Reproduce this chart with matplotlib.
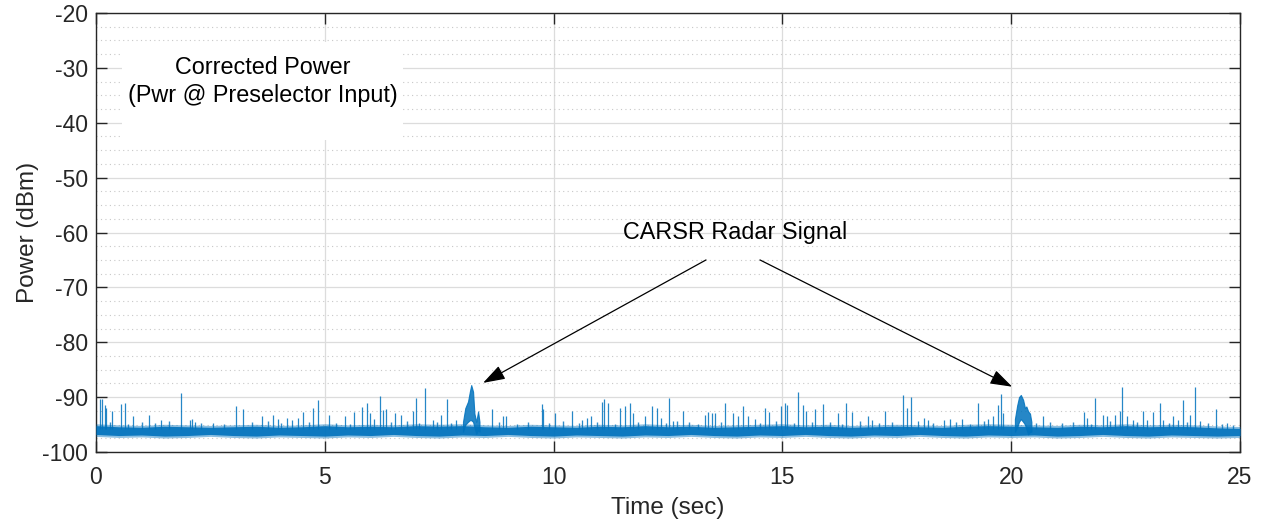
import numpy as np
import matplotlib.pyplot as plt
from matplotlib.patches import Rectangle

plt.rcParams['font.family'] = ['Liberation Sans', 'DejaVu Sans']
plt.rcParams['axes.unicode_minus'] = False

# ---- data ----
# noise floor band (every 0.5 s)
floor_t = [0.0, 0.5, 1.0, 1.5, 2.0, 2.5, 3.0, 3.5, 4.0, 4.5, 5.0, 5.5, 6.0, 6.5, 7.0, 7.5,
           8.0, 8.5, 9.0, 9.5, 10.0, 10.5, 11.0, 11.5, 12.0, 12.5, 13.0, 13.5, 14.0, 14.5,
           15.0, 15.5, 16.0, 16.5, 17.0, 17.5, 18.0, 18.5, 19.0, 19.5, 20.0, 20.5, 21.0,
           21.5, 22.0, 22.5, 23.0, 23.5, 24.0, 24.5, 25.0]
floor_hi = [-95.2, -95.4, -95.5, -95.3, -95.4, -95.5, -95.4, -95.3, -95.5, -95.4, -95.2, -95.4,
            -95.3, -95.4, -95.2, -95.3, -95.2, -95.4, -95.5, -95.3, -95.4, -95.5, -95.3, -95.4,
            -95.2, -95.4, -95.3, -95.5, -95.4, -95.3, -95.2, -95.4, -95.3, -95.5, -95.4, -95.3,
            -95.4, -95.5, -95.3, -95.2, -95.3, -95.4, -95.5, -95.3, -95.4, -95.2, -95.4, -95.3,
            -95.4, -95.6, -95.7]
floor_lo = [-96.8, -97.0, -96.9, -97.1, -97.0, -96.8, -97.0, -97.1, -96.9, -97.0, -97.1, -96.9,
            -97.0, -96.8, -97.0, -97.1, -96.9, -97.0, -96.8, -97.0, -97.1, -96.9, -97.0, -97.1,
            -96.9, -97.0, -96.8, -97.0, -97.1, -96.9, -97.0, -96.8, -97.0, -97.1, -96.9, -97.0,
            -96.8, -97.0, -97.1, -96.9, -97.0, -96.9, -97.1, -97.0, -96.8, -97.0, -97.1, -96.9,
            -97.0, -97.1, -97.0]

# isolated spikes: time (s), peak (dBm)
spike_t = [0.09, 0.14, 0.19, 0.23, 0.36, 0.54, 0.63, 0.82, 1.16, 1.42, 1.85, 2.06, 2.09, 2.16,
           2.56, 3.05, 3.22, 3.63, 3.87, 3.98, 4.17, 4.28, 4.42, 4.52, 4.75, 4.86, 5.10, 5.44,
           5.64, 5.81, 5.92, 5.99, 6.08, 6.21, 6.28, 6.33, 6.53, 6.66, 6.93, 6.99, 7.19, 7.36,
           7.53, 7.68, 7.87, 8.65, 8.90, 8.97, 9.74, 9.77, 10.04, 10.40, 10.63, 10.73, 10.81,
           11.05, 11.10, 11.19, 11.45, 11.55, 11.66, 11.74, 12.00, 12.14, 12.26, 12.35, 12.53,
           12.62, 12.82, 13.31, 13.38, 13.46, 13.52, 13.75, 13.93, 14.04, 14.13, 14.24, 14.40,
           14.62, 14.71, 14.96, 15.06, 15.11, 15.35, 15.45, 15.52, 15.71, 15.88, 16.22, 16.40,
           16.51, 16.86, 16.95, 17.24, 17.63, 17.73, 17.82, 17.97, 18.09, 18.18, 18.52, 18.67,
           18.93, 19.28, 19.50, 19.61, 19.72, 19.78, 19.83, 20.69, 21.58, 21.65, 21.83, 22.00,
           22.09, 22.26, 22.37, 22.41, 22.54, 22.65, 22.87, 22.97, 23.09, 23.24, 23.32, 23.53,
           23.65, 23.76, 23.91, 24.02, 24.13, 24.48, 24.71]
spike_db = [-90.4, -90.4, -91.4, -92.0, -92.5, -91.2, -91.1, -93.4, -93.2, -94.2, -89.3, -94.2,
            -93.9, -94.6, -94.7, -91.6, -92.2, -93.5, -93.2, -94.0, -93.8, -94.1, -93.8, -92.8,
            -92.0, -90.5, -93.2, -93.5, -92.8, -91.8, -91.1, -92.9, -94.0, -89.8, -92.3, -92.2,
            -92.9, -93.2, -92.6, -90.2, -88.4, -94.1, -93.2, -90.4, -94.1, -92.2, -93.5, -93.5,
            -91.3, -92.2, -92.9, -92.5, -94.1, -93.8, -93.5, -90.8, -90.4, -91.1, -92.0, -91.7,
            -91.0, -92.9, -93.5, -91.7, -92.0, -93.8, -90.1, -94.4, -92.6, -93.2, -92.8, -92.9,
            -92.9, -91.1, -92.9, -93.5, -91.6, -93.5, -94.0, -92.0, -92.8, -91.6, -91.0, -91.4,
            -89.0, -91.4, -92.6, -92.2, -91.3, -92.9, -91.0, -92.8, -93.5, -94.1, -92.6, -89.7,
            -92.0, -89.9, -94.4, -93.8, -94.1, -94.1, -94.0, -94.0, -91.0, -94.0, -93.5, -91.4,
            -89.5, -92.9, -93.5, -92.8, -93.8, -90.1, -93.2, -93.5, -93.2, -92.6, -88.2, -93.5,
            -94.1, -92.6, -94.1, -92.8, -91.1, -94.1, -93.5, -94.1, -90.5, -93.2, -88.2, -94.4,
            -92.2, -94.7]

# small ripples on top of the floor
ripple_t = [0.30, 0.70, 1.00, 1.30, 1.60, 2.30, 2.80, 3.40, 3.75, 4.05, 4.65, 5.25, 5.55, 6.45,
            6.80, 7.05, 7.45, 7.75, 8.80, 9.20, 9.45, 9.90, 10.20, 10.55, 10.95, 11.35, 11.85,
            12.45, 12.70, 12.95, 13.15, 13.65, 14.50, 14.85, 15.25, 15.65, 16.05, 16.30, 16.70,
            17.10, 17.40, 18.30, 18.80, 19.10, 19.40, 20.55, 20.85, 21.10, 21.35, 21.75, 22.15,
            22.75, 23.45, 23.85, 24.30, 24.60, 24.85]
ripple_db = [-94.6, -94.9, -94.5, -94.8, -94.4, -94.7, -94.9, -94.6, -94.4, -94.8, -94.5, -94.7,
             -94.9, -94.6, -94.4, -94.8, -94.5, -94.7, -94.6, -94.9, -94.5, -94.8, -94.4, -94.7,
             -94.6, -94.9, -94.5, -94.8, -94.4, -94.6, -94.9, -94.5, -94.7, -94.4, -94.8, -94.6,
             -94.5, -94.9, -94.4, -94.7, -94.6, -94.8, -94.5, -94.9, -94.4, -94.7, -94.6, -94.8,
             -94.5, -94.9, -94.4, -94.6, -94.8, -94.5, -94.7, -94.9, -95.0]

# CARSR radar bursts
burst1_t = [8.02, 8.07, 8.13, 8.17, 8.20, 8.24, 8.27, 8.31, 8.35, 8.38]
burst1_hi = [-94.5, -92.0, -90.8, -89.0, -87.8, -89.0, -93.0, -94.5, -92.6, -94.5]
burst1_lo = [-96.3, -95.0, -94.5, -94.2, -94.2, -94.5, -95.5, -96.7, -96.0, -96.3]
burst2_t = [20.08, 20.13, 20.17, 20.21, 20.26, 20.30, 20.33, 20.37, 20.41, 20.44]
burst2_hi = [-94.0, -91.5, -90.0, -89.6, -90.5, -92.0, -91.7, -92.6, -93.0, -94.5]
burst2_lo = [-96.3, -95.5, -94.5, -94.0, -94.5, -95.0, -95.8, -96.8, -96.3, -96.3]

BLUE = '#0072BD'
DARK = '#262626'

fig = plt.figure(figsize=(12.66, 5.27), dpi=100)
ax = fig.add_axes([0.0758, 0.1423, 0.9037, 0.833])

ax.fill_between(floor_t, np.array(floor_lo) - 0.35, np.array(floor_hi) + 0.35,
                color=BLUE, alpha=0.45, lw=0, zorder=3)
ax.fill_between(floor_t, floor_lo, floor_hi, color=BLUE, alpha=0.9, lw=0, zorder=3)
ax.vlines(ripple_t, -95.8, ripple_db, color=BLUE, lw=1.0, alpha=0.8, zorder=3)
ax.vlines(spike_t, -95.8, spike_db, color=BLUE, lw=0.9, alpha=0.85, zorder=3)
ax.fill_between(burst1_t, burst1_lo, burst1_hi, color=BLUE, alpha=0.85, lw=0.8, ec=BLUE, zorder=3)
ax.fill_between(burst2_t, burst2_lo, burst2_hi, color=BLUE, alpha=0.85, lw=0.8, ec=BLUE, zorder=3)

ax.set_xlim(0, 25)
ax.set_ylim(-100, -20)
ax.set_xticks([0, 5, 10, 15, 20, 25])
ax.set_yticks(np.arange(-100, -19, 10))
ax.set_yticks(np.arange(-100, -19, 2.5), minor=True)

ax.grid(True, which='major', color='#DCDCDC', lw=0.9, zorder=0)
ax.grid(True, which='minor', axis='y', color='#C8C8C8', lw=0.8, ls=(0, (1, 3)), zorder=0)
ax.set_axisbelow(True)
ax.tick_params(which='major', direction='in', length=8, width=1.0, color=DARK,
               labelsize=16.5, labelcolor=DARK, top=True, right=True, pad=6)
ax.tick_params(axis='x', which='major', pad=10)
ax.tick_params(which='minor', length=0)
for s in ax.spines.values():
    s.set_color(DARK)
    s.set_linewidth(1.0)

ax.set_xlabel('Time (sec)', fontsize=17.5, color=DARK, labelpad=6)
ax.set_ylabel('Power (dBm)', fontsize=17.5, color=DARK, labelpad=2)

# white box behind the label
ax.add_patch(Rectangle((0.57, -43.1), 6.14, 17.9, fc='white', ec='none', zorder=2))
ax.text(3.64, -32.5, 'Corrected Power\n(Pwr @ Preselector Input)', ha='center', va='center',
        fontsize=16.8, linespacing=1.25, zorder=4)

ax.text(13.96, -60.0, 'CARSR Radar Signal', ha='center', va='center', fontsize=16.8, zorder=4)
arrow = dict(arrowstyle='-|>,head_length=0.9,head_width=0.3', color='black', lw=0.9,
             mutation_scale=15, shrinkA=0, shrinkB=0)
ax.annotate('', xy=(8.46, -87.4), xytext=(13.33, -65.0), arrowprops=arrow, zorder=4)
ax.annotate('', xy=(20.02, -88.1), xytext=(14.51, -65.0), arrowprops=arrow, zorder=4)

fig.savefig('out.png', dpi=100)
